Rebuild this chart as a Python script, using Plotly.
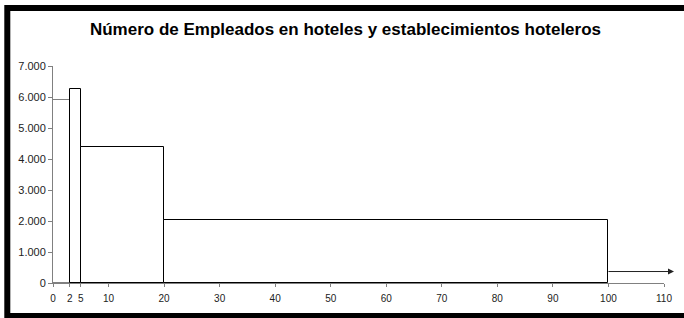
import plotly.graph_objects as go

# Data
bin_edges = [0, 3, 5, 20, 100]
employees = [5900, 6250, 4400, 2030]
open_bin_start = 100
open_bin_end = 111.8
open_bin_value = 370
x_tickvals = [0, 3, 5, 10, 20, 30, 40, 50, 60, 70, 80, 90, 100, 110]
x_ticktext = ["0", "2", "5", "10", "20", "30", "40", "50", "60", "70", "80", "90", "100", "110"]
y_tickvals = [0, 1000, 2000, 3000, 4000, 5000, 6000, 7000]
title_text = "Número de Empleados en hoteles y establecimientos hoteleros"

centers = [(a + b) / 2 for a, b in zip(bin_edges[:-1], bin_edges[1:])]
widths = [b - a for a, b in zip(bin_edges[:-1], bin_edges[1:])]

W, H = 684, 318
ML, MR, MT, MB = 53, 16, 66, 35
PW = W - ML - MR
PH = H - MT - MB

def px_x(p):
    return (p - ML) / PW

def px_y(p):
    return (H - MB - p) / PH

fig = go.Figure()
fig.add_trace(go.Bar(
    x=centers, y=employees, width=widths, base=0,
    marker=dict(color="white",
                line=dict(color=["#808080", "black", "black", "black"], width=1)),
    hoverinfo="skip", showlegend=False,
))

fig.add_annotation(
    x=open_bin_end, y=open_bin_value, ax=open_bin_start, ay=open_bin_value,
    xref="x", yref="y", axref="x", ayref="y",
    text="", showarrow=True, arrowhead=2, arrowsize=1.2, arrowwidth=1,
    arrowcolor="#222222", font=dict(size=1), borderpad=0, borderwidth=0,
)

# thick outer frame
fig.add_shape(type="rect", xref="paper", yref="paper",
              x0=px_x(7), x1=px_x(720), y0=px_y(316), y1=px_y(8),
              line=dict(color="black", width=6), fillcolor="rgba(0,0,0,0)",
              layer="above")

fig.update_layout(
    width=W, height=H,
    margin=dict(l=ML, r=MR, t=MT, b=MB),
    paper_bgcolor="white", plot_bgcolor="white",
    separators=",.",
    bargap=0,
    font=dict(family="Liberation Sans, Arial, sans-serif", size=11, color="black"),
    title=dict(text="<b>" + title_text + "</b>", x=345.5 / W, xanchor="center",
               xref="container", y=1 - 29 / H, yanchor="middle", yref="container",
               font=dict(family="Liberation Sans, Arial, sans-serif", size=17, color="black")),
    xaxis=dict(range=[0, 110], tickvals=x_tickvals, ticktext=x_ticktext, showline=True,
               linecolor="#808080", linewidth=1, ticks="outside", ticklen=3,
               tickcolor="#808080", showgrid=False, zeroline=False,
               ticklabelstandoff=3,
               tickfont=dict(size=10, color="#222222")),
    yaxis=dict(range=[0, 7000], tickvals=y_tickvals, tickformat=",d", showline=True,
               linecolor="#808080", linewidth=1, ticks="outside", ticklen=4,
               tickcolor="#808080", showgrid=False, zeroline=False,
               tickfont=dict(size=11, color="#222222")),
)

fig.write_html("out.html", config={"displayModeBar": False},
               post_script="document.body.style.margin='0';document.body.style.overflow='hidden';")
